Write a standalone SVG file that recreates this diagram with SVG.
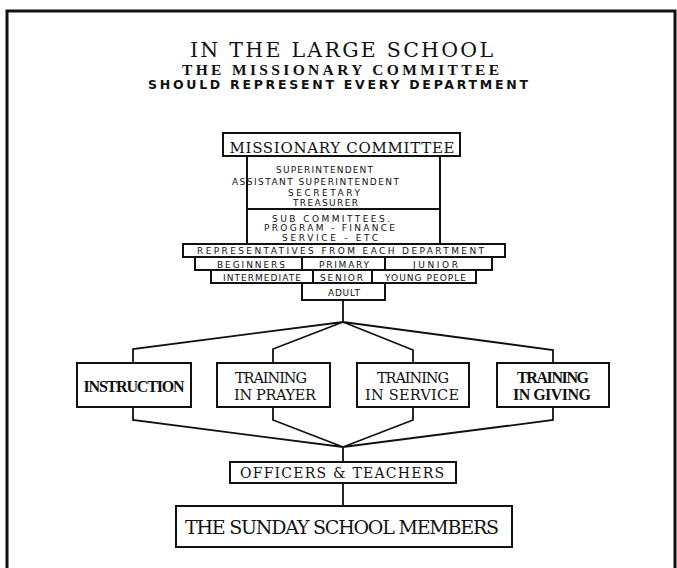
<svg xmlns="http://www.w3.org/2000/svg" width="677" height="568" viewBox="0 0 677 568">
<style>
.bx{fill:none;stroke:#111;stroke-width:2}
.ln{fill:none;stroke:#111;stroke-width:1.8;stroke-linejoin:miter}
.sr{font-family:"DejaVu Serif","Liberation Serif",serif;fill:#111;text-anchor:middle}
.sb{font-family:"Liberation Serif",serif;font-weight:bold;fill:#111;text-anchor:middle}
.sn{font-family:"DejaVu Sans","Liberation Sans",sans-serif;fill:#111;text-anchor:middle}
.sm{font-family:"DejaVu Sans","Liberation Sans",sans-serif;fill:#111;text-anchor:middle;font-size:9px}
</style>
<rect width="677" height="568" fill="#fff"/>
<path d="M7 570 V11 H675 V570" fill="none" stroke="#111" stroke-width="3"/>
<g id="title">
<text class="sr" x="341.5" y="57" font-size="20.5" textLength="303" lengthAdjust="spacing">IN THE LARGE SCHOOL</text>
<text class="sb" x="340.5" y="75" font-size="15.5" textLength="317" lengthAdjust="spacing">THE MISSIONARY COMMITTEE</text>
<text class="sn" x="338" y="89" font-size="12.5" font-weight="bold" textLength="380" lengthAdjust="spacing">SHOULD REPRESENT EVERY DEPARTMENT</text>
</g>
<g id="missionary-committee">
<rect class="bx" x="223" y="133" width="237" height="23"/>
<text class="sr" x="342" y="153" font-size="15" textLength="225" lengthAdjust="spacing">MISSIONARY COMMITTEE</text>
</g>
<g id="officers-list">
<path class="bx" d="M247 156 V244 M440 156 V244 M247 209 H440"/>
<text class="sm" x="324.5" y="173" textLength="97" lengthAdjust="spacing">SUPERINTENDENT</text>
<text class="sm" x="315.5" y="184.5" textLength="167" lengthAdjust="spacing">ASSISTANT SUPERINTENDENT</text>
<text class="sm" x="324" y="196" textLength="72" lengthAdjust="spacing">SECRETARY</text>
<text class="sm" x="325.5" y="206" textLength="65" lengthAdjust="spacing">TREASURER</text>
</g>
<g id="sub-committees">
<text class="sm" x="331" y="221.5" font-size="8.5" textLength="118" lengthAdjust="spacing">SUB COMMITTEES.</text>
<text class="sm" x="329.5" y="231" font-size="8.5" textLength="131" lengthAdjust="spacing">PROGRAM - FINANCE</text>
<text class="sm" x="330" y="240.5" font-size="8.5" textLength="96" lengthAdjust="spacing">SERVICE - ETC</text>
</g>
<g id="representatives">
<rect class="bx" x="183" y="244" width="322" height="13"/>
<text class="sm" x="340.5" y="254" font-size="8.5" textLength="287" lengthAdjust="spacing">REPRESENTATIVES FROM EACH DEPARTMENT</text>
</g>
<g id="departments-1">
<path class="bx" d="M195 257 V270 H492 V257 M302 257 V270 M385 257 V270"/>
<text class="sm" x="251" y="267.5" font-size="8.5" textLength="68" lengthAdjust="spacing">BEGINNERS</text>
<text class="sm" x="344" y="267.5" font-size="8.5" textLength="50" lengthAdjust="spacing">PRIMARY</text>
<text class="sm" x="435.5" y="267.5" font-size="8.5" textLength="45" lengthAdjust="spacing">JUNIOR</text>
</g>
<g id="departments-2">
<path class="bx" d="M211 270 V283 H476 V270 M313 270 V283 M372 270 V283"/>
<text class="sm" x="262" y="280.5" font-size="8.5" textLength="78" lengthAdjust="spacing">INTERMEDIATE</text>
<text class="sm" x="341.5" y="280.5" font-size="8.5" textLength="43" lengthAdjust="spacing">SENIOR</text>
<text class="sm" x="425.5" y="280.5" font-size="8.5" textLength="81" lengthAdjust="spacing">YOUNG PEOPLE</text>
</g>
<g id="adult">
<path class="bx" d="M302 283 V300 H385 V283"/>
<text class="sm" x="344" y="295.5" font-size="8.5" textLength="32" lengthAdjust="spacing">ADULT</text>
</g>
<g id="connectors">
<path class="ln" d="M343 300 V322 M343 322 L133 349 V363 M343 322 L273 349 V363 M343 322 L413 350 V363 M343 322 L553 350 V363"/>
<path class="ln" d="M133 407 V420 L343 447 M273 407 V420 L343 447 M413 407 V420 L343 447 M553 407 V420 L343 447 M343 447 V462 M343 483 V506"/>
</g>
<g id="instruction">
<rect class="bx" x="77" y="363" width="114" height="44"/>
<text class="sb" x="134" y="392" font-size="16" textLength="101" lengthAdjust="spacing">INSTRUCTION</text>
</g>
<g id="training-prayer">
<rect class="bx" x="217" y="363" width="113" height="44"/>
<text class="sr" x="271" y="383" font-size="14.5" textLength="72" lengthAdjust="spacing">TRAINING</text>
<text class="sr" x="275" y="400" font-size="14.5" textLength="82" lengthAdjust="spacing">IN PRAYER</text>
</g>
<g id="training-service">
<rect class="bx" x="357" y="363" width="112" height="44"/>
<text class="sr" x="413" y="383" font-size="14.5" textLength="72" lengthAdjust="spacing">TRAINING</text>
<text class="sr" x="412" y="400" font-size="14.5" textLength="94" lengthAdjust="spacing">IN SERVICE</text>
</g>
<g id="training-giving">
<rect class="bx" x="497" y="363" width="112" height="44"/>
<text class="sb" x="553" y="383" font-size="16" textLength="72" lengthAdjust="spacing">TRAINING</text>
<text class="sb" x="552" y="400" font-size="16" textLength="78" lengthAdjust="spacing">IN GIVING</text>
</g>
<g id="officers-teachers">
<rect class="bx" x="230" y="462" width="226" height="21"/>
<text class="sr" x="342" y="478" font-size="14" textLength="204" lengthAdjust="spacing">OFFICERS &amp; TEACHERS</text>
</g>
<g id="sunday-school-members">
<rect class="bx" x="176" y="506" width="336" height="41"/>
<text class="sr" x="342" y="534" font-size="19" textLength="314" lengthAdjust="spacing">THE SUNDAY SCHOOL MEMBERS</text>
</g>
</svg>
